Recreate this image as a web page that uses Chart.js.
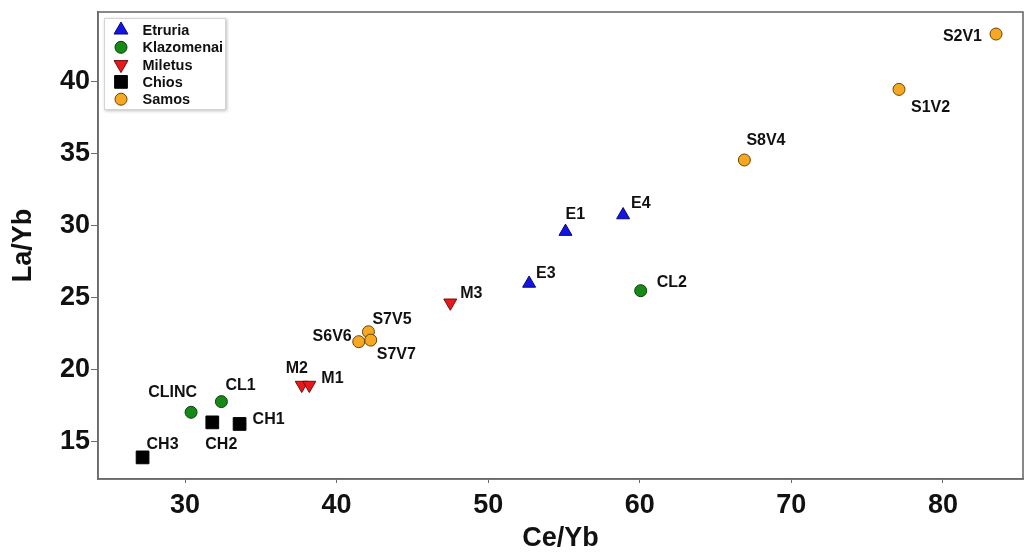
<!DOCTYPE html>
<html lang="en">
<head>
  <meta charset="UTF-8">
  <title>La/Yb vs Ce/Yb</title>
  <script src="https://cdn.jsdelivr.net/npm/chart.js"></script>
  <style>
    html, body { margin: 0; padding: 0; background: #fff; overflow: hidden; }
    #wrap { width: 1026px; height: 555px; position: relative; overflow: hidden; }
    canvas { display: block; }
  </style>
</head>
<body>
<div id="wrap"><canvas id="chart"></canvas></div>

<script>
  // --- data ---
  const etruriaNames = ['E1', 'E3', 'E4'];
  const etruriaX = [55.1, 52.7, 58.9];
  const etruriaY = [29.6, 26.0, 30.75];

  const klazoNames = ['CL2', 'CL1', 'CLINC'];
  const klazoX = [60.06, 32.4, 30.4];
  const klazoY = [25.5, 17.8, 17.06];

  const miletusNames = ['M3', 'M2', 'M1'];
  const miletusX = [47.5, 37.7, 38.2];
  const miletusY = [24.66, 18.95, 18.95];

  const chiosNames = ['CH1', 'CH2', 'CH3'];
  const chiosX = [33.6, 31.8, 27.2];
  const chiosY = [16.25, 16.36, 13.93];

  const samosNames = ['S2V1', 'S1V2', 'S8V4', 'S7V5', 'S6V6', 'S7V7'];
  const samosX = [83.5, 77.1, 66.9, 42.1, 41.46, 42.25];
  const samosY = [43.31, 39.47, 34.57, 22.65, 21.96, 22.07];

  const xTicks = [30, 40, 50, 60, 70, 80];
  const yTicks = [15, 20, 25, 30, 35, 40];

  // label placement next to each point: [dx, dy, align]
  const labelPos = {
    E1: [0, -18, 'left'], E4: [8, -13, 'left'], E3: [7, -11, 'left'],
    CL2: [16, -9, 'left'], CL1: [4, -17, 'left'], CLINC: [6, -21, 'right'],
    M3: [10, -11, 'left'], M2: [-16, -18, 'left'], M1: [12, -8, 'left'],
    CH1: [13, -6, 'left'], CH2: [-7, 21, 'left'], CH3: [4, -14, 'left'],
    S2V1: [-14, 1, 'right'], S1V2: [12, 17, 'left'], S8V4: [2, -21, 'left'],
    S7V5: [4, -14, 'left'], S6V6: [-7, -6, 'right'], S7V7: [6, 13, 'left']
  };

  const FONT = "'Liberation Sans', Arial, sans-serif";
  const frameColor = '#6b6b6b';

  function pts(names, xs, ys) {
    return names.map((n, i) => ({ x: xs[i], y: ys[i], name: n }));
  }

  const series = [
    { label: 'Etruria', data: pts(etruriaNames, etruriaX, etruriaY), style: 'triangle', rot: 0, radius: 7.5, bg: '#1414e6', border: '#0a0a6a' },
    { label: 'Klazomenai', data: pts(klazoNames, klazoX, klazoY), style: 'circle', rot: 0, radius: 6, bg: '#168a16', border: '#0b3f0b' },
    { label: 'Miletus', data: pts(miletusNames, miletusX, miletusY), style: 'triangle', rot: 180, radius: 7.5, bg: '#e61a1a', border: '#7a0a0a' },
    { label: 'Chios', data: pts(chiosNames, chiosX, chiosY), style: 'rect', rot: 0, radius: 9, bg: '#000000', border: '#000000' },
    { label: 'Samos', data: pts(samosNames, samosX, samosY), style: 'circle', rot: 0, radius: 6, bg: '#f7a823', border: '#6b4300' }
  ];

  // no automatic label overflow padding, so the plot box sits where the figure has it
  function noPad(sc) {
    sc.paddingTop = 0; sc.paddingBottom = 0; sc.paddingLeft = 0; sc.paddingRight = 0;
  }

  // point name labels
  const pointLabels = {
    id: 'pointLabels',
    afterDatasetsDraw(chart) {
      const ctx = chart.ctx;
      ctx.save();
      ctx.font = 'bold 16px ' + FONT;
      ctx.fillStyle = '#111';
      ctx.textBaseline = 'alphabetic';
      chart.data.datasets.forEach((ds, di) => {
        const meta = chart.getDatasetMeta(di);
        meta.data.forEach((el, i) => {
          const p = labelPos[ds.data[i].name];
          ctx.textAlign = p[2];
          ctx.fillText(ds.data[i].name, el.x + p[0], el.y + p[1] + 5.8);
        });
      });
      ctx.restore();
    }
  };

  // frame around plot area + legend box inside top-left
  const frameAndLegend = {
    id: 'frameAndLegend',
    afterDraw(chart) {
      const ctx = chart.ctx;
      const a = chart.chartArea;
      ctx.save();
      ctx.strokeStyle = frameColor;
      ctx.lineWidth = 1.6;
      ctx.strokeRect(a.left, a.top, a.right - a.left, a.bottom - a.top);

      const bx = a.left + 6, by = a.top + 6, bw = 122, bh = 92;
      ctx.shadowColor = 'rgba(0,0,0,0.25)';
      ctx.shadowBlur = 3;
      ctx.shadowOffsetX = 1;
      ctx.shadowOffsetY = 1;
      ctx.fillStyle = '#fff';
      ctx.fillRect(bx, by, bw, bh);
      ctx.shadowColor = 'transparent';
      ctx.strokeStyle = '#d4d4d4';
      ctx.lineWidth = 1;
      ctx.strokeRect(bx + 0.5, by + 0.5, bw - 1, bh - 1);

      ctx.font = 'bold 14.5px ' + FONT;
      ctx.textAlign = 'left';
      ctx.textBaseline = 'middle';
      series.forEach((s, i) => {
        const cy = by + 12 + i * 17.3;
        const cx = bx + 17;
        ctx.fillStyle = s.bg;
        ctx.strokeStyle = s.border;
        ctx.lineWidth = 1;
        Chart.helpers.drawPoint(ctx, {
          pointStyle: s.style,
          rotation: s.rot,
          radius: s.style === 'rect' ? 9 : (s.style === 'circle' ? 6 : 8),
          borderWidth: 1
        }, cx, cy);
        ctx.fillStyle = '#111';
        ctx.fillText(s.label, bx + 38.5, cy + 1);
      });
      ctx.restore();
    }
  };

  new Chart(document.getElementById('chart'), {
    type: 'scatter',
    data: {
      datasets: series.map(s => ({
        label: s.label,
        data: s.data,
        pointStyle: s.style,
        pointRotation: s.rot,
        pointRadius: s.radius,
        pointHoverRadius: s.radius,
        backgroundColor: s.bg,
        borderColor: s.border,
        borderWidth: 1
      }))
    },
    options: {
      responsive: true,
      maintainAspectRatio: false,
      animation: false,
      layout: { autoPadding: false, padding: { top: 12, right: 3, left: 0, bottom: 0 } },
      plugins: {
        legend: { display: false },
        tooltip: { enabled: false }
      },
      scales: {
        x: {
          type: 'linear',
          min: 24.26,
          max: 85.28,
          afterBuildTicks: sc => { sc.ticks = xTicks.map(v => ({ value: v })); },
          afterFit: sc => { sc.height = 76; noPad(sc); },
          grid: { drawOnChartArea: false, drawTicks: true, tickLength: 4, color: frameColor },
          border: { display: true, color: frameColor, width: 1.6 },
          ticks: { color: '#111', padding: 6, font: { family: FONT, size: 27, weight: 'bold' } },
          title: {
            display: true, text: 'Ce/Yb', color: '#111', padding: { top: 11, bottom: 0 },
            font: { family: FONT, size: 27, weight: 'bold' }
          }
        },
        y: {
          type: 'linear',
          min: 12.43,
          max: 44.84,
          afterBuildTicks: sc => { sc.ticks = yTicks.map(v => ({ value: v })); },
          afterFit: sc => { sc.width = 98; noPad(sc); },
          grid: { drawOnChartArea: false, drawTicks: true, tickLength: 7, color: frameColor },
          border: { display: true, color: frameColor, width: 1.6 },
          ticks: { color: '#111', padding: 1, font: { family: FONT, size: 27, weight: 'bold' } },
          title: {
            display: true, text: 'La/Yb', color: '#111', padding: { top: 7, bottom: 0 },
            font: { family: FONT, size: 27, weight: 'bold' }
          }
        }
      }
    },
    plugins: [pointLabels, frameAndLegend]
  });
</script>
</body>
</html>
